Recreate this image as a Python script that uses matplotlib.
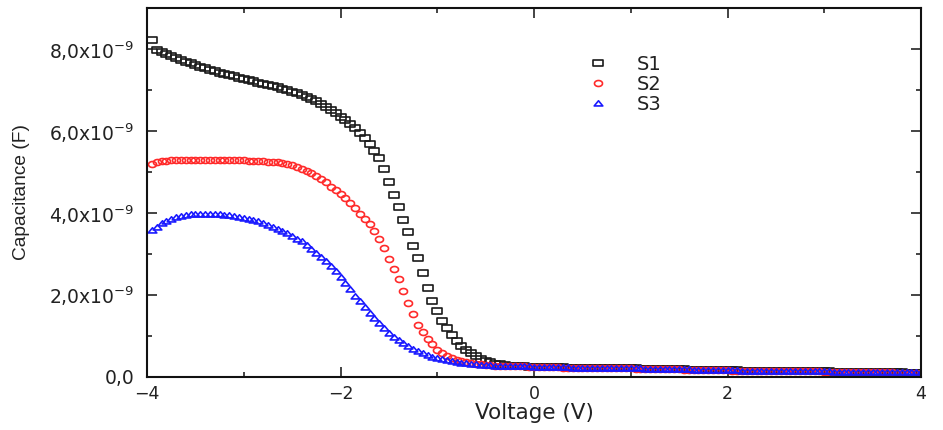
import numpy as np
import matplotlib
matplotlib.use("Agg")
import matplotlib.pyplot as plt
from matplotlib.path import Path
from matplotlib import font_manager
from matplotlib.ticker import MultipleLocator

# ---------------- data (capacitance in nF, voltage in V) ----------------
v_start, v_stop, v_step = -3.95, 4.00, 0.05
voltage = np.round(np.arange(v_start, v_stop + v_step / 2, v_step), 2)

s1_nF = [
    8.23, 7.98, 7.92, 7.87, 7.82, 7.78, 7.73, 7.69, 7.65, 7.61, 7.57, 7.53, 7.49, 7.46, 7.42, 7.39, 7.36, 7.33, 7.30, 7.27,
    7.24, 7.21, 7.18, 7.15, 7.12, 7.09, 7.06, 7.03, 7.00, 6.96, 6.92, 6.88, 6.83, 6.78, 6.72, 6.66, 6.59, 6.52, 6.44, 6.35,
    6.26, 6.16, 6.06, 5.95, 5.82, 5.67, 5.51, 5.33, 5.07, 4.76, 4.44, 4.13, 3.83, 3.52, 3.20, 2.89, 2.54, 2.16, 1.85, 1.60,
    1.36, 1.18, 1.01, 0.87, 0.75, 0.65, 0.57, 0.50, 0.44, 0.39, 0.35, 0.32, 0.30, 0.28, 0.27, 0.26, 0.25, 0.25, 0.24, 0.24,
    0.24, 0.24, 0.23, 0.23, 0.23, 0.23, 0.22, 0.22, 0.22, 0.22, 0.22, 0.21, 0.21, 0.21, 0.21, 0.21, 0.20, 0.20, 0.20, 0.20,
    0.20, 0.19, 0.19, 0.19, 0.19, 0.19, 0.18, 0.18, 0.18, 0.18, 0.18, 0.17, 0.17, 0.17, 0.17, 0.17, 0.16, 0.16, 0.16, 0.16,
    0.16, 0.16, 0.15, 0.15, 0.15, 0.15, 0.15, 0.15, 0.14, 0.14, 0.14, 0.14, 0.14, 0.14, 0.13, 0.13, 0.13, 0.13, 0.13, 0.13,
    0.13, 0.12, 0.12, 0.12, 0.12, 0.12, 0.12, 0.12, 0.11, 0.11, 0.11, 0.11, 0.11, 0.11, 0.11, 0.11, 0.10, 0.10, 0.10, 0.10,
]

s2_nF = [
    5.20, 5.24, 5.26, 5.27, 5.28, 5.28, 5.29, 5.29, 5.29, 5.29, 5.29, 5.29, 5.29, 5.29, 5.29, 5.29, 5.28, 5.28, 5.28, 5.28,
    5.27, 5.27, 5.26, 5.26, 5.25, 5.24, 5.23, 5.21, 5.19, 5.16, 5.12, 5.08, 5.03, 4.96, 4.90, 4.82, 4.74, 4.64, 4.55, 4.46,
    4.35, 4.23, 4.11, 3.98, 3.85, 3.72, 3.56, 3.37, 3.13, 2.87, 2.62, 2.38, 2.10, 1.80, 1.52, 1.27, 1.09, 0.93, 0.79, 0.66,
    0.57, 0.50, 0.45, 0.41, 0.38, 0.35, 0.33, 0.31, 0.30, 0.29, 0.28, 0.27, 0.27, 0.26, 0.26, 0.25, 0.25, 0.25, 0.24, 0.24,
    0.24, 0.23, 0.23, 0.23, 0.23, 0.22, 0.22, 0.22, 0.22, 0.22, 0.21, 0.21, 0.21, 0.21, 0.21, 0.20, 0.20, 0.20, 0.20, 0.20,
    0.19, 0.19, 0.19, 0.19, 0.19, 0.18, 0.18, 0.18, 0.18, 0.18, 0.17, 0.17, 0.17, 0.17, 0.17, 0.16, 0.16, 0.16, 0.16, 0.16,
    0.15, 0.15, 0.15, 0.15, 0.15, 0.15, 0.14, 0.14, 0.14, 0.14, 0.14, 0.14, 0.13, 0.13, 0.13, 0.13, 0.13, 0.13, 0.13, 0.12,
    0.12, 0.12, 0.12, 0.12, 0.12, 0.12, 0.11, 0.11, 0.11, 0.11, 0.11, 0.11, 0.11, 0.11, 0.10, 0.10, 0.10, 0.10, 0.10, 0.10,
]

s3_nF = [
    3.58, 3.66, 3.74, 3.81, 3.86, 3.90, 3.93, 3.95, 3.97, 3.98, 3.98, 3.98, 3.98, 3.97, 3.96, 3.95, 3.94, 3.92, 3.90, 3.88,
    3.85, 3.82, 3.79, 3.75, 3.71, 3.66, 3.61, 3.56, 3.50, 3.44, 3.37, 3.30, 3.21, 3.12, 3.03, 2.93, 2.82, 2.70, 2.57, 2.43,
    2.28, 2.13, 1.98, 1.84, 1.70, 1.56, 1.43, 1.30, 1.18, 1.07, 0.98, 0.89, 0.81, 0.74, 0.68, 0.62, 0.57, 0.53, 0.49, 0.46,
    0.43, 0.40, 0.38, 0.36, 0.34, 0.33, 0.31, 0.30, 0.29, 0.28, 0.28, 0.27, 0.27, 0.26, 0.26, 0.25, 0.25, 0.25, 0.25, 0.24,
    0.24, 0.24, 0.24, 0.23, 0.23, 0.23, 0.23, 0.22, 0.22, 0.22, 0.22, 0.22, 0.21, 0.21, 0.21, 0.21, 0.20, 0.20, 0.20, 0.20,
    0.20, 0.20, 0.19, 0.19, 0.19, 0.19, 0.19, 0.18, 0.18, 0.18, 0.18, 0.18, 0.17, 0.17, 0.17, 0.17, 0.17, 0.16, 0.16, 0.16,
    0.16, 0.16, 0.15, 0.15, 0.15, 0.15, 0.15, 0.15, 0.14, 0.14, 0.14, 0.14, 0.14, 0.14, 0.13, 0.13, 0.13, 0.13, 0.13, 0.13,
    0.13, 0.12, 0.12, 0.12, 0.12, 0.12, 0.12, 0.12, 0.12, 0.11, 0.11, 0.11, 0.11, 0.11, 0.11, 0.11, 0.11, 0.11, 0.11, 0.11,
]

series_names = ["S1", "S2", "S3"]
series_colors = ["#1a1a1a", "#ff2a2a", "#1a1aff"]

x_ticks = [-4, -2, 0, 2, 4]
y_tick_labels = {0: "0,0", 2: r"2,0x10$^{\mathregular{-9}}$", 4: r"4,0x10$^{\mathregular{-9}}$",
                 6: r"6,0x10$^{\mathregular{-9}}$", 8: r"8,0x10$^{\mathregular{-9}}$"}

# ---------------- markers (slightly wide, like the stretched original) ----------------
sq = Path([(-1.45, -1.0), (1.45, -1.0), (1.45, 1.0), (-1.45, 1.0), (-1.45, -1.0)],
          [Path.MOVETO, Path.LINETO, Path.LINETO, Path.LINETO, Path.CLOSEPOLY])
t = np.linspace(0, 2 * np.pi, 41)
el = Path(np.column_stack([1.35 * np.cos(t), np.sin(t)]))
tri = Path([(-1.5, -0.85), (1.5, -0.85), (0.0, 0.95), (-1.5, -0.85)],
           [Path.MOVETO, Path.LINETO, Path.LINETO, Path.CLOSEPOLY])
markers = [sq, el, tri]
msizes = [6.8, 5.8, 6.2]

# ---------------- figure ----------------
fig = plt.figure(figsize=(9.43, 4.30), dpi=100)
ax = fig.add_axes([0.1559, 0.124, 0.8208, 0.8575])

for vals, name, col, mk, ms in zip([s1_nF, s2_nF, s3_nF], series_names, series_colors, markers, msizes):
    ax.plot(voltage, np.array(vals) * 1e-9, linestyle="none", marker=mk, markersize=ms,
            markerfacecolor="none", markeredgecolor=col, markeredgewidth=1.2, label=name)

ax.set_xlim(-4, 4)
ax.set_ylim(0, 9e-9)
ax.set_xticks(x_ticks)
ax.xaxis.set_minor_locator(MultipleLocator(1))
ax.set_yticks([k * 1e-9 for k in y_tick_labels])
ax.set_yticklabels(list(y_tick_labels.values()))
ax.yaxis.set_minor_locator(MultipleLocator(1e-9))

tick_font = "DejaVu Sans"
ax.tick_params(which="both", direction="in", top=True, right=True, color="#111111")
ax.tick_params(which="major", length=7, width=1.1, labelcolor="#222222")
ax.tick_params(axis="y", which="major", pad=9, labelsize=13.5)
ax.tick_params(axis="x", which="major", pad=6, labelsize=12.5)
ax.tick_params(which="minor", length=3.5, width=1.1)
for lbl in ax.get_xticklabels() + ax.get_yticklabels():
    lbl.set_fontfamily(tick_font)
for sp in ax.spines.values():
    sp.set_linewidth(1.5)
    sp.set_color("#111111")

ax.set_xlabel("Voltage (V)", fontsize=15.5, fontfamily=tick_font, color="#222222", labelpad=0)

names = {f.name for f in font_manager.fontManager.ttflist}
if "Liberation Sans Narrow" in names:
    ax.set_ylabel("Capacitance (F)", fontsize=16, fontfamily="Liberation Sans Narrow", color="#222222", labelpad=14)
else:
    ax.set_ylabel("Capacitance (F)", fontsize=13.8, fontfamily="Liberation Sans", color="#222222", labelpad=14)

leg = ax.legend(loc="upper left", bbox_to_anchor=(0.545, 0.92), frameon=False, numpoints=1,
                handlelength=1.2, handletextpad=1.4, labelspacing=0.05,
                prop={"family": tick_font, "size": 14})
for txt in leg.get_texts():
    txt.set_color("#222222")

fig.savefig("out.png", dpi=100)
